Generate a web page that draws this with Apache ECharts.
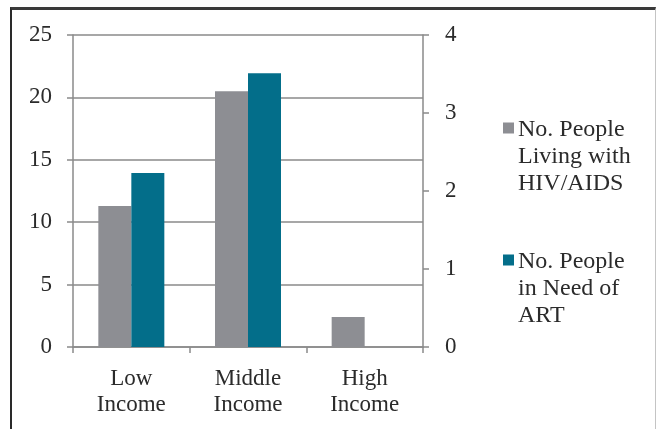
<!DOCTYPE html>
<html>
<head>
<meta charset="utf-8">
<script src="https://cdn.jsdelivr.net/npm/echarts@6/dist/echarts.min.js"></script>
<style>
  html, body { margin: 0; padding: 0; background: #fff; }
  #frame {
    position: absolute; left: 10px; top: 7px; width: 643px; height: 440px;
    border-top: 3px solid #3a3a3a; border-left: 2px solid #2a2a2a; border-right: 1px solid #c4c4c4;
  }
  #chart { position: absolute; left: 0; top: 0; width: 657px; height: 429px; }
</style>
</head>
<body>
<div id="frame"></div>
<div id="chart"></div>
<script>
// Income groups and the two measures plotted against them
const categories = ['Low\nIncome', 'Middle\nIncome', 'High\nIncome'];
const seriesNames = ['No. People\nLiving with\nHIV/AIDS', 'No. People\nin Need of\nART'];
const livingWithHiv = [11.3, 20.5, 2.4];   // left axis
const needOfArt = [2.23, 3.51, 0];         // right axis
const leftTicks = { min: 0, max: 25, interval: 5 };
const rightTicks = { min: 0, max: 4, interval: 1 };

const FONT = '"Liberation Serif", "Times New Roman", serif';
const AXIS_GRAY = '#8a8a8a';
const TEXT = '#2b2b2b';

// Square icon sitting beside the first line of a three-line legend label
const legendIcon = 'path://M0,0h0.01v0.01h-0.01z M0,6h11v11h-11z M0,80h0.01v0.01h-0.01z';

const chart = echarts.init(document.getElementById('chart'));
chart.setOption({
  animation: false,
  backgroundColor: 'transparent',
  grid: { left: 73, right: 234, top: 35, bottom: 82 },
  legend: {
    orient: 'vertical',
    left: 498,
    top: 111,
    icon: legendIcon,
    itemWidth: 11,
    itemHeight: 81,
    itemGap: 51,
    textStyle: { fontFamily: FONT, fontSize: 24, lineHeight: 27, color: TEXT, padding: [0, 0, 0, -1] },
    data: seriesNames
  },
  xAxis: {
    type: 'category',
    data: categories,
    axisLine: { lineStyle: { color: AXIS_GRAY, width: 1.5 } },
    axisTick: { show: true, length: 6, lineStyle: { color: AXIS_GRAY, width: 1.5 } },
    axisLabel: { fontFamily: FONT, fontSize: 23, lineHeight: 26, color: TEXT, margin: 19 }
  },
  yAxis: [
    {
      type: 'value', ...leftTicks,
      axisLine: { show: true, lineStyle: { color: AXIS_GRAY, width: 1.5 } },
      axisTick: { show: true, length: 6, lineStyle: { color: AXIS_GRAY, width: 1.5 } },
      splitLine: { show: true, lineStyle: { color: AXIS_GRAY, width: 1.5 } },
      axisLabel: { fontFamily: FONT, fontSize: 23, color: TEXT, margin: 21 }
    },
    {
      type: 'value', ...rightTicks,
      position: 'right',
      axisLine: { show: true, lineStyle: { color: AXIS_GRAY, width: 1.5 } },
      axisTick: { show: true, length: 6, lineStyle: { color: AXIS_GRAY, width: 1.5 } },
      splitLine: { show: false },
      axisLabel: { fontFamily: FONT, fontSize: 23, color: TEXT, margin: 22 }
    }
  ],
  series: [
    {
      name: seriesNames[0], type: 'bar', yAxisIndex: 0, data: livingWithHiv,
      barWidth: 33, barGap: '0%',
      itemStyle: { color: '#8d8e93' }
    },
    {
      name: seriesNames[1], type: 'bar', yAxisIndex: 1, data: needOfArt,
      barWidth: 33, barGap: '0%',
      itemStyle: { color: '#036e8a' }
    }
  ]
});
</script>
</body>
</html>
